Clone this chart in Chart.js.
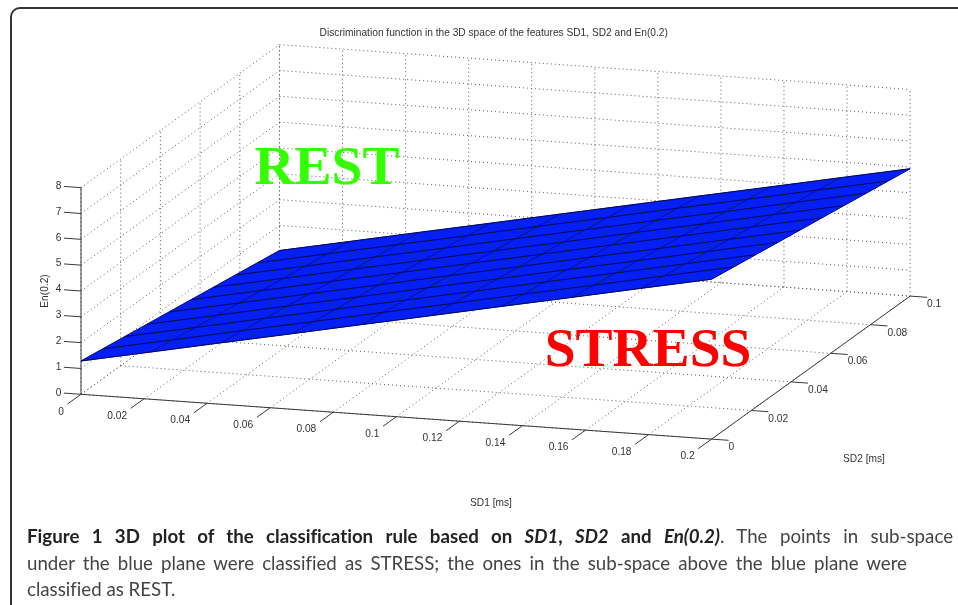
<!DOCTYPE html>
<html>
<head>
<meta charset="utf-8">
<title>Figure 1</title>
<script src="https://cdn.jsdelivr.net/npm/chart.js@4"></script>
<style>
    html, body { margin: 0; padding: 0; background: #fff; width: 958px; height: 605px; overflow: hidden; }
    #canvasPlot { position: absolute; left: 0; top: 0; }
    #frame { position: absolute; left: 10px; top: 7px; width: 960px; height: 620px; border-top: 2px solid #333; border-left: 2px solid #333; border-top-left-radius: 10px; }
    .ligne { position: absolute; left: 27px; font-family: Lato, sans-serif; font-size: 18.7px; font-variant-ligatures: none; line-height: 26px; color: #444; white-space: nowrap; }
    .ligne b { color: #222; }
    .just { white-space: normal; text-align: justify; text-align-last: justify; }
</style>
</head>
<body>
<div id="frame"></div>
<canvas id="canvasPlot" width="958" height="605"></canvas>
<div class="ligne just" style="top:523px;width:926px"><b>Figure 1 3D plot of the classification rule based on <i>SD1</i>, <i>SD2</i> and <i>En(0.2)</i></b>. The points in sub-space</div>
<div class="ligne just" style="top:550px;width:880px">under the blue plane were classified as STRESS; the ones in the sub-space above the blue plane were</div>
<div class="ligne" style="top:576px">classified as REST.</div>
<script>
const sd1Ticks = [0, 0.02, 0.04, 0.06, 0.08, 0.1, 0.12, 0.14, 0.16, 0.18, 0.2]
const sd2Ticks = [0, 0.02, 0.04, 0.06, 0.08, 0.1]
const enTicks = [0, 1, 2, 3, 4, 5, 6, 7, 8]

// mesh of the blue plane, one row per sd2 value
const sd1Mesh = [0, 0.0222, 0.0444, 0.0667, 0.0889, 0.1111, 0.1333, 0.1556, 0.1778, 0.2]
const sd2Mesh = [0, 0.0111, 0.0222, 0.0333, 0.0444, 0.0556, 0.0667, 0.0778, 0.0889, 0.1]
const enMesh = [
    [1.29, 1.83, 2.38, 2.92, 3.47, 4.01, 4.56, 5.10, 5.65, 6.19],
    [1.15, 1.69, 2.24, 2.78, 3.33, 3.87, 4.42, 4.96, 5.51, 6.05],
    [1.01, 1.55, 2.10, 2.64, 3.19, 3.73, 4.28, 4.82, 5.37, 5.91],
    [0.87, 1.41, 1.96, 2.50, 3.05, 3.59, 4.14, 4.68, 5.23, 5.77],
    [0.73, 1.27, 1.82, 2.36, 2.91, 3.45, 4.00, 4.54, 5.09, 5.63],
    [0.59, 1.13, 1.68, 2.22, 2.77, 3.31, 3.86, 4.40, 4.95, 5.49],
    [0.45, 0.99, 1.54, 2.08, 2.63, 3.17, 3.72, 4.26, 4.81, 5.35],
    [0.31, 0.85, 1.40, 1.94, 2.49, 3.03, 3.58, 4.12, 4.67, 5.21],
    [0.17, 0.71, 1.26, 1.80, 2.35, 2.89, 3.44, 3.98, 4.53, 5.07],
    [0.03, 0.57, 1.12, 1.66, 2.21, 2.75, 3.30, 3.84, 4.39, 4.93]
]

const sd1Max = sd1Ticks[sd1Ticks.length - 1]
const sd2Max = sd2Ticks[sd2Ticks.length - 1]
const enMax = enTicks[enTicks.length - 1]

// the view of the MATLAB figure: 3D values to page units
function project(sd1, sd2, en) {
    return {
        x: 81 + sd1 * 3153 + sd2 * 1985,
        y: 394.3 + sd1 * 224 - sd2 * 1430 - en * 25.83
    }
}

function ligne3D(debut, fin, couleur, largeur, dash) {
    return {
        type: 'scatter',
        data: [project(...debut), project(...fin)],
        showLine: true,
        borderColor: couleur,
        borderWidth: largeur,
        borderDash: dash || [],
        pointRadius: 0,
        tension: 0,
        fill: false
    }
}

let datasets = []
const grille = '#5a5a5a'
const pointilles = [1, 3]

// floor and the two walls
for (let sd1 of sd1Ticks) {
    datasets.push(ligne3D([sd1, 0, 0], [sd1, sd2Max, 0], grille, 1, pointilles))
    datasets.push(ligne3D([sd1, sd2Max, 0], [sd1, sd2Max, enMax], grille, 1, pointilles))
}
for (let sd2 of sd2Ticks) {
    datasets.push(ligne3D([0, sd2, 0], [sd1Max, sd2, 0], grille, 1, pointilles))
    datasets.push(ligne3D([0, sd2, 0], [0, sd2, enMax], grille, 1, pointilles))
}
for (let en of enTicks) {
    datasets.push(ligne3D([0, 0, en], [0, sd2Max, en], grille, 1, pointilles))
    datasets.push(ligne3D([0, sd2Max, en], [sd1Max, sd2Max, en], grille, 1, pointilles))
}

// axes and tick marks
const axe = '#3a3a3a'
datasets.push(ligne3D([0, 0, 0], [0, 0, enMax], axe, 1))
datasets.push(ligne3D([0, 0, 0], [sd1Max, 0, 0], axe, 1))
datasets.push(ligne3D([sd1Max, 0, 0], [sd1Max, sd2Max, 0], axe, 1))
for (let en of enTicks) datasets.push(ligne3D([0, 0, en], [-0.0054, 0, en], axe, 1))
for (let sd1 of sd1Ticks) datasets.push(ligne3D([sd1, 0, 0], [sd1, -0.0067, 0], axe, 1))
for (let sd2 of sd2Ticks) datasets.push(ligne3D([sd1Max, sd2, 0], [sd1Max + 0.0054, sd2, 0], axe, 1))

// blue plane
const nbMesh = sd1Mesh.length - 1
datasets.push({
    type: 'scatter',
    data: [
        project(sd1Mesh[0], sd2Mesh[0], enMesh[0][0]),
        project(sd1Mesh[nbMesh], sd2Mesh[0], enMesh[0][nbMesh]),
        project(sd1Mesh[nbMesh], sd2Mesh[nbMesh], enMesh[nbMesh][nbMesh]),
        project(sd1Mesh[0], sd2Mesh[nbMesh], enMesh[nbMesh][0]),
        project(sd1Mesh[0], sd2Mesh[0], enMesh[0][0])
    ],
    showLine: true,
    fill: 'shape',
    backgroundColor: '#0420f5',
    borderColor: '#0420f5',
    borderWidth: 1,
    pointRadius: 0,
    tension: 0
})
sd2Mesh.forEach((sd2, j) => {
    datasets.push({
        type: 'scatter',
        data: sd1Mesh.map((sd1, i) => project(sd1, sd2, enMesh[j][i])),
        showLine: true, borderColor: '#06063a', borderWidth: 0.9, pointRadius: 0, tension: 0
    })
})
sd1Mesh.forEach((sd1, i) => {
    datasets.push({
        type: 'scatter',
        data: sd2Mesh.map((sd2, j) => project(sd1, sd2, enMesh[j][i])),
        showLine: true, borderColor: '#070d70', borderWidth: 0.8, pointRadius: 0, tension: 0
    })
})

// chart.js draws the first dataset on top, the plane has to come last
datasets.reverse()

// texts of the figure, drawn with the scales of the chart
const textes3D = {
    id: 'textes3D',
    afterDatasetsDraw(chart) {
        const ctx = chart.ctx
        const sx = chart.scales.x
        const sy = chart.scales.y
        const ecrire = (texte, x, y, align, font, couleur, rotation) => {
            ctx.save()
            ctx.translate(sx.getPixelForValue(x), sy.getPixelForValue(y))
            if (rotation) ctx.rotate(rotation)
            ctx.font = font
            ctx.fillStyle = couleur
            ctx.textAlign = align
            ctx.textBaseline = 'middle'
            ctx.fillText(texte, 0, 0)
            ctx.restore()
        }
        const petit = '10.2px "Liberation Sans"'
        const gris = '#333'
        for (let en of enTicks) {
            let p = project(0, 0, en)
            ecrire(String(en), p.x - 19.5, p.y - 1.5, 'right', petit, gris)
        }
        for (let sd1 of sd1Ticks) {
            let p = project(sd1, 0, 0)
            ecrire(String(sd1), p.x - 17, p.y + 17.4, 'right', petit, gris)
        }
        for (let sd2 of sd2Ticks) {
            let p = project(sd1Max, sd2, 0)
            ecrire(String(sd2), p.x + 17, p.y + 8.2, 'left', petit, gris)
        }
        ecrire('Discrimination function in the 3D space of the features SD1, SD2 and En(0.2)', 493.7, 32.7, 'center', petit, gris)
        ecrire('SD1 [ms]', 491, 503, 'center', petit, gris)
        ecrire('SD2 [ms]', 864, 459, 'center', petit, gris)
        ecrire('En(0.2)', 45, 291, 'center', petit, gris, -Math.PI / 2)
        const gros = 'bold 55.5px "Liberation Serif"'
        ecrire('REST', 327, 170, 'center', gros, '#33ff00')
        ecrire('STRESS', 648, 352, 'center', gros, '#ff0000')
    }
}

new Chart(document.getElementById('canvasPlot'), {
    type: 'scatter',
    data: { datasets: datasets },
    options: {
        responsive: false,
        animation: false,
        devicePixelRatio: 1,
        layout: { padding: 0 },
        plugins: { legend: { display: false }, tooltip: { enabled: false } },
        scales: {
            x: { type: 'linear', display: false, min: 0, max: 958 },
            y: { type: 'linear', display: false, min: 0, max: 605, reverse: true }
        }
    },
    plugins: [textes3D]
})
</script>
</body>
</html>
